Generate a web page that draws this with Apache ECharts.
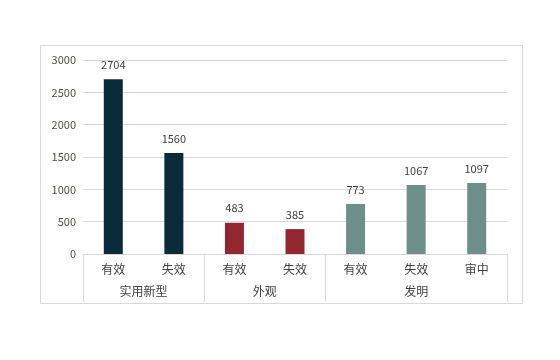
<!DOCTYPE html>
<html><head><meta charset="utf-8">
<script src="https://cdn.jsdelivr.net/npm/echarts@6/dist/echarts.min.js"></script>
<style>html,body{margin:0;padding:0;background:#fff}#c{width:560px;height:360px;position:absolute;left:0;top:0}
#b{position:absolute;left:40px;top:45px;width:481px;height:257px;border:1px solid #d9d9d9}</style>
</head><body><div id="b"></div><div id="c"></div>
<script>
var categories = ['有效','失效','有效','失效','有效','失效','审中'];
var groups = ['实用新型','外观','发明'];
var groupSizes = [2,2,3];
var values = [2704,1560,483,385,773,1067,1097];
var colors = ['#0b2a3a','#0b2a3a','#922730','#922730','#6d8f89','#6d8f89','#6d8f89'];
var yTicks = [0,500,1000,1500,2000,2500,3000];

// build half-step axis for group labels / separators
var n = categories.length;
var half = [];
for (var i = 0; i <= n*2; i++) half.push('');
var tickIdx = [0], labelIdx = [], pos = 0;
groupSizes.forEach(function(s, gi){
  var center = pos + s; // in half steps
  half[center] = groups[gi];
  labelIdx.push(center);
  pos += s*2;
  tickIdx.push(pos);
});

var font = '"Noto Sans CJK SC", "Microsoft YaHei", sans-serif';
var chart = echarts.init(document.getElementById('c'), null, {renderer:'canvas'});
chart.setOption({
  animation:false,
  grid:{left:83,right:53,top:60,bottom:106},
  xAxis:[{
    type:'category', data:categories, position:'bottom',
    axisLine:{show:true,lineStyle:{color:'#d9d9d9'}},
    axisTick:{show:false},
    axisLabel:{color:'#404040',fontSize:12,fontFamily:font,margin:9,interval:0}
  },{
    type:'category', data:half, position:'bottom', boundaryGap:false,
    axisLine:{show:false},
    axisTick:{show:true,length:48,lineStyle:{color:'#d9d9d9'},interval:function(i){return tickIdx.indexOf(i)>=0;}},
    axisLabel:{color:'#404040',fontSize:12,fontFamily:font,margin:31,interval:function(i){return labelIdx.indexOf(i)>=0;}}
  }],
  yAxis:{type:'value',min:yTicks[0],max:yTicks[yTicks.length-1],interval:500,
    axisLine:{show:false},axisTick:{show:false},
    splitLine:{lineStyle:{color:'#d9d9d9'}},
    axisLabel:{color:'#5a4a3a',fontSize:11,fontFamily:font,margin:7,formatter:function(v){return String(v);}}},
  series:[{
    type:'bar', xAxisIndex:0, barWidth:19,
    data:values.map(function(v,i){return {value:v,itemStyle:{color:colors[i]}};}),
    label:{show:true,position:'top',distance:9,color:'#404040',fontSize:11,fontFamily:font}
  }]
});
</script></body></html>
